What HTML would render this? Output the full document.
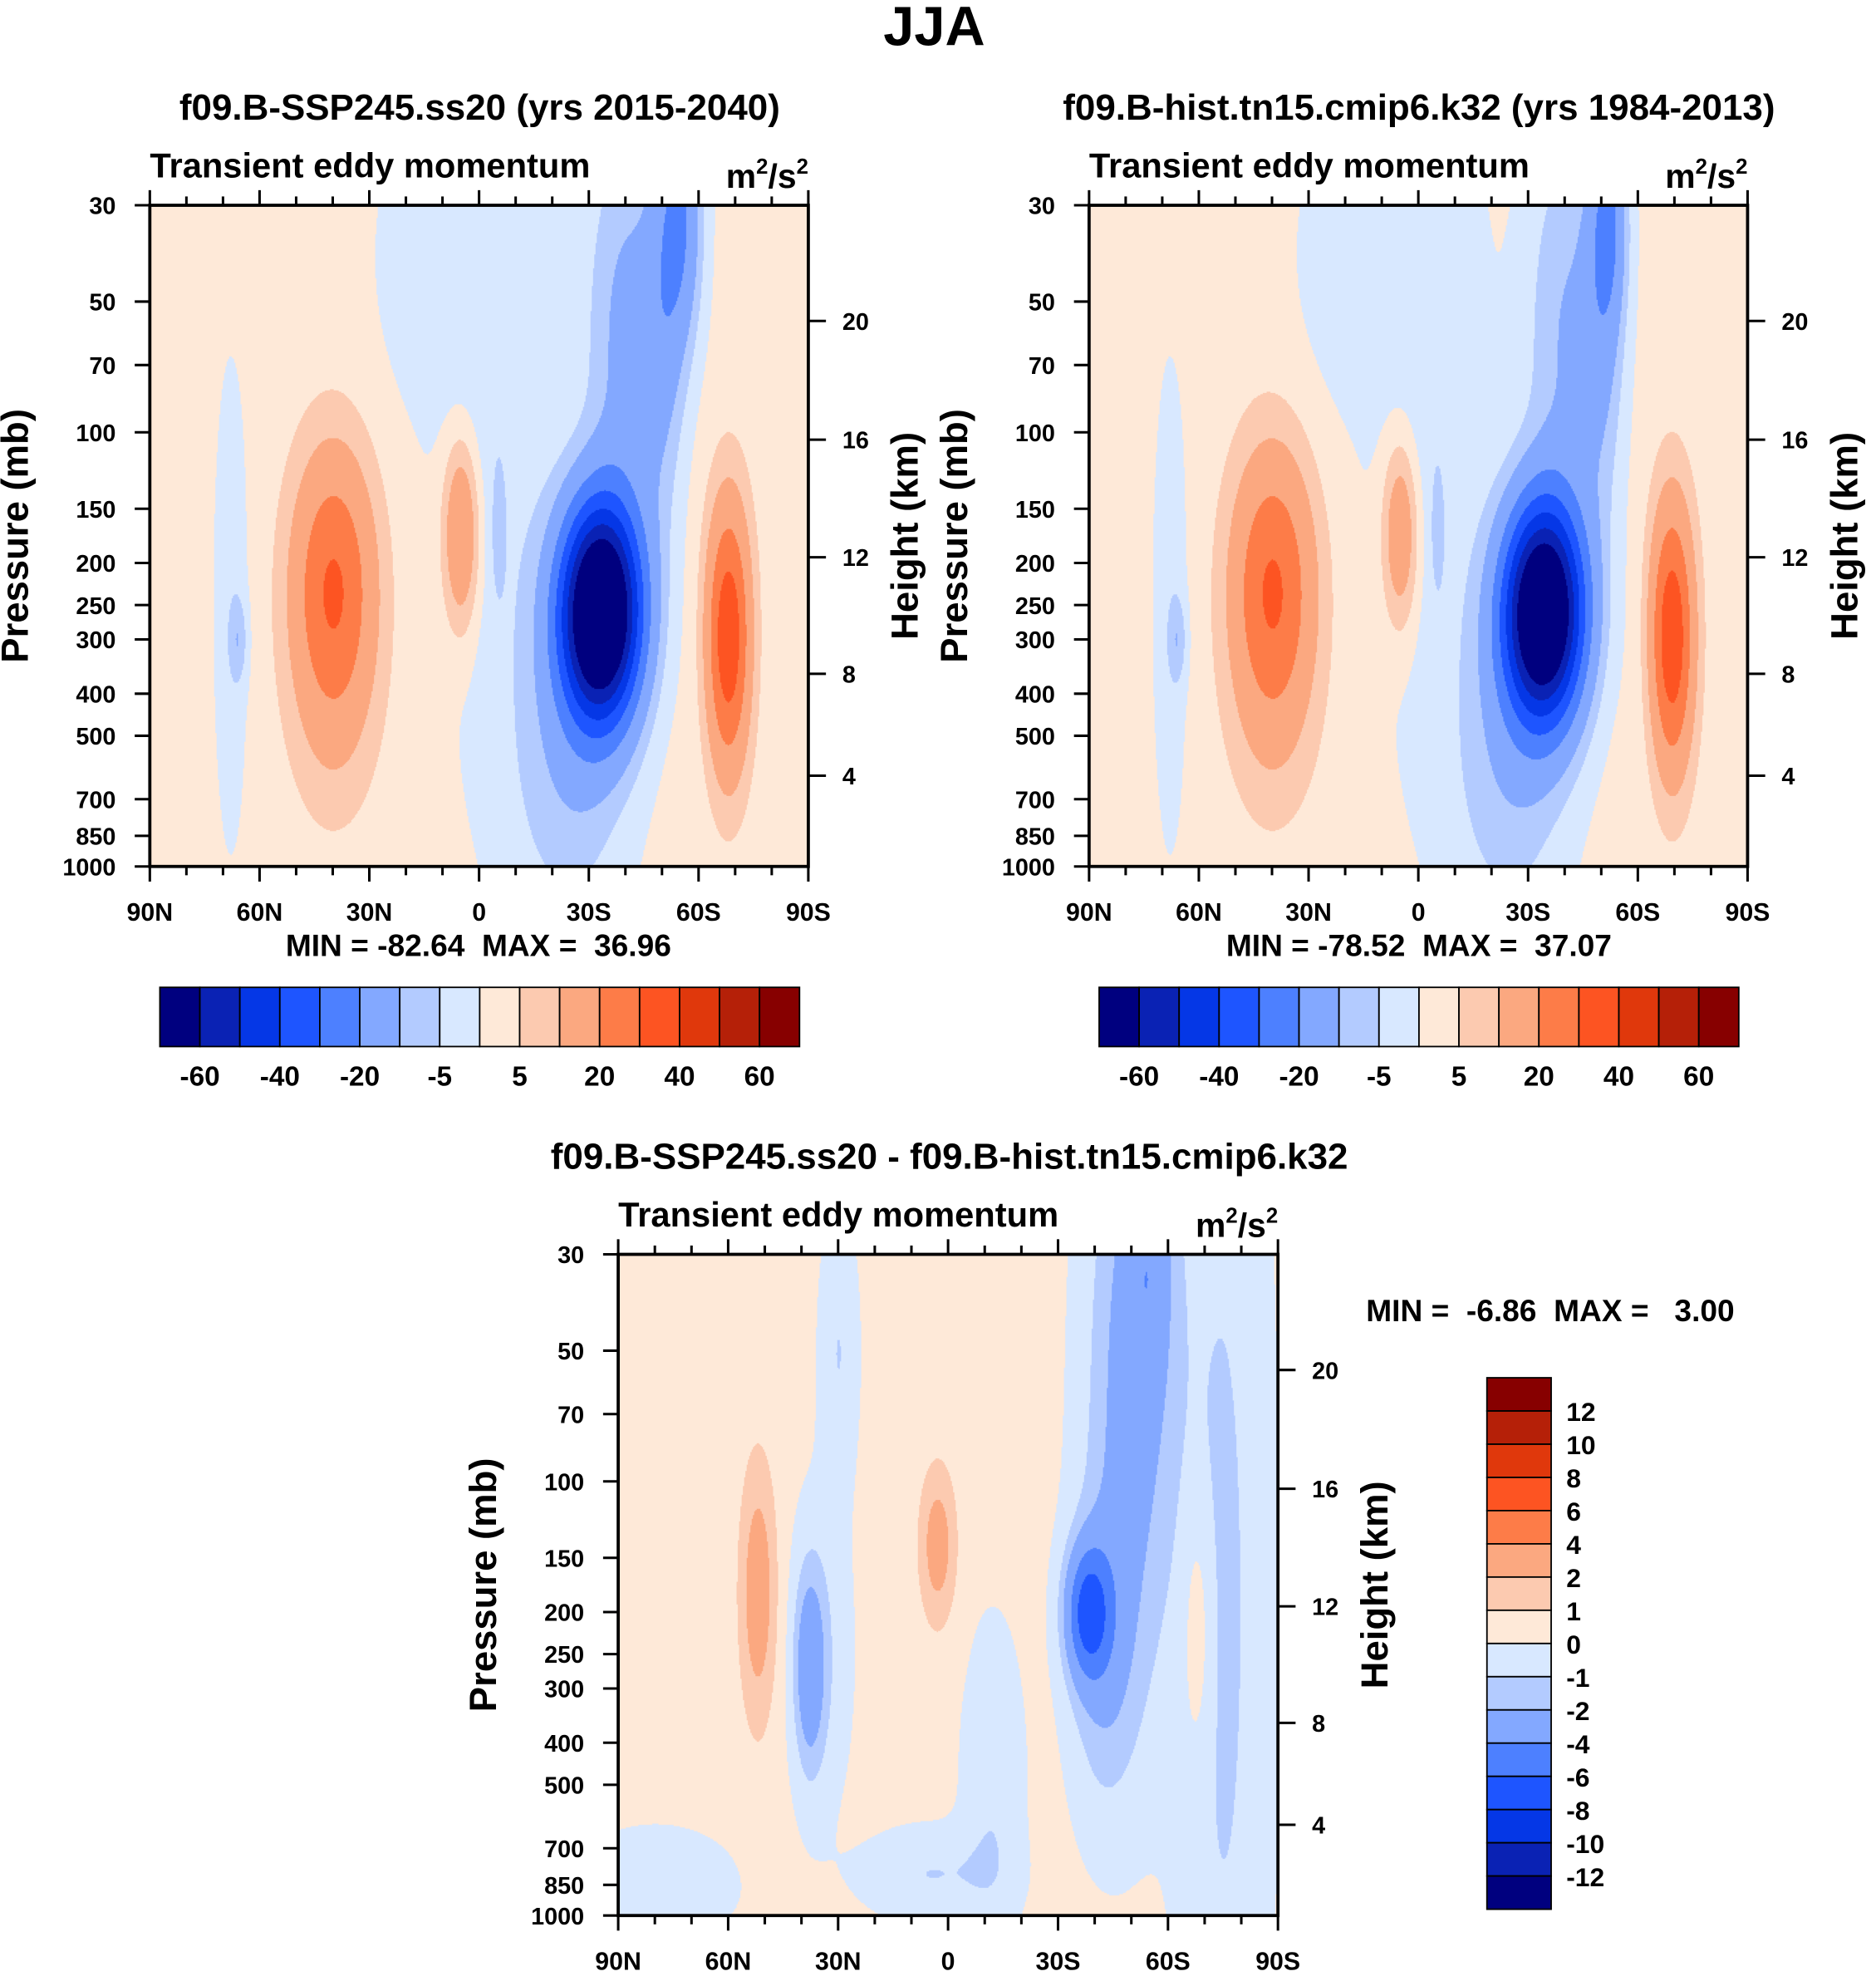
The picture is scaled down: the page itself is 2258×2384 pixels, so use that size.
<!DOCTYPE html>
<html><head><meta charset="utf-8">
<style>
html,body{margin:0;padding:0;background:#fff;}
#wrap{position:absolute;left:0;top:0;width:1490px;height:1573px;transform:scale(1.51544,1.51558);transform-origin:0 0;font-family:"Liberation Sans",Arial,sans-serif;font-weight:bold;}
canvas{position:absolute;}
svg{position:absolute;left:0;top:0;}
svg text{white-space:pre;}
</style></head>
<body>
<div id="wrap">
<canvas id="c1" style="left:119px;top:163px;width:523px;height:525px" width="1046" height="1050"></canvas>
<canvas id="c2" style="left:865px;top:163px;width:523px;height:525px" width="1046" height="1050"></canvas>
<canvas id="c3" style="left:491px;top:996px;width:524px;height:525px" width="1048" height="1050"></canvas>
<svg id="svg" width="1490" height="1573" viewBox="0 0 1490 1573"></svg>
</div>
<script>
// ---- data ----
const pressureTicks = [30,50,70,100,150,200,250,300,400,500,700,850,1000];
const heightTicks = [4,8,12,16,20];
const heightPressures = [618,360,194,104,55.4];
const latTicks = [90,60,30,0,-30,-60,-90];
const latLabels = ["90N","60N","30N","0","30S","60S","90S"];
const levelsFull = [-60,-50,-40,-30,-20,-10,-5,0,5,10,20,30,40,50,60];
const levelsDiff = [-12,-10,-8,-6,-4,-2,-1,0,1,2,4,6,8,10,12];
const fullLabels = ["-60","-40","-20","-5","5","20","40","60"];
const colors = ["#00007f","#0a22b4","#0537e6","#1e55ff","#4d80ff","#83a8ff","#b3cbff","#d8e8ff","#fee9d8","#fccab0","#fba880","#fd7c48","#fd5422","#e0380c","#b52008","#870000"];
// features: [lat, pressure, amplitude, latWidth, logPressureWidth]
const base1 = 2;
const features1 = [
 [-33,260,-90,11,0.25],[-40,60,-14,11,0.5],[-25,600,-10,16,0.4],[-5,90,-6,16,0.9],
 [-55,32,-20,6,0.3],[-50,60,-10,6,0.4],[-68,320,-10,7,0.3],[-68,300,46,6,0.3],[40,220,27,11,0.3],[40,420,6,12,0.3],
 [5,170,20,5,0.22],[66,300,-8,2.5,0.1],[68,250,-5,5,0.6],[15,40,-5,14,0.35],[-5,170,-4,2,0.15]];
const base2 = 2;
const features2 = [
 [-34,260,-86,11,0.25],[-40,60,-12,11,0.5],[-25,600,-10,16,0.4],[-3,80,-6,16,0.9],
 [-52,32,-18,5,0.25],[-50,60,-10,6,0.4],[-68,320,-10,7,0.3],[-69,300,46,6,0.3],[40,220,27,11,0.3],[40,420,6,12,0.3],
 [5,170,18,5,0.22],[66,300,-8,2.5,0.1],[68,250,-5,5,0.6],[20,40,-5,14,0.35],[-5,170,-4,2,0.15]];
const base3 = 0.3;
const features3 = [
 [-50,60,-3,12,0.7],[-38,200,-6,6,0.15],[-42,250,-2,9,0.35],[-75,200,-1.5,12,1.5],[-68,220,1.3,4,0.3],
 [52,180,2.6,5,0.3],[38,270,-3,4,0.22],[35,250,-1.2,8,0.35],[3,140,2.4,5,0.18],
 [30,50,-1.3,5,0.3],[80,850,-1.2,20,0.12],[5,800,-1.3,18,0.1],[-12,500,-1.2,8,0.35],[-55,30,-2,6,0.3]];

function fieldVal(base,feats,lat,z){
  let v=base;
  for(const f of feats){
    const dx=(lat-f[0])/f[3], dz=(z-Math.log10(f[1]))/f[4];
    v+=f[2]*Math.exp(-dx*dx-dz*dz);
  }
  return v;
}
function draw(id,base,feats,levels){
  const c=document.getElementById(id),ctx=c.getContext('2d');
  const W=c.width,H=c.height,step=2;
  const z0=Math.log10(30),z1=Math.log10(1000);
  for(let y=0;y<H;y+=step){
    const z=z0+(y/H)*(z1-z0);
    for(let x=0;x<W;x+=step){
      const lat=90-180*x/W;
      const v=fieldVal(base,feats,lat,z);
      let b=0;while(b<levels.length&&v>=levels[b])b++;
      ctx.fillStyle=colors[b];ctx.fillRect(x,y,step,step);
    }
  }
}
draw('c1',base1,features1,levelsFull);
draw('c2',base2,features2,levelsFull);
draw('c3',base3,features3,levelsDiff);

const NS="http://www.w3.org/2000/svg",svg=document.getElementById('svg');
function el(tag,attrs,txt){const e=document.createElementNS(NS,tag);for(const k in attrs)e.setAttribute(k,attrs[k]);if(txt!==undefined)e.textContent=txt;svg.appendChild(e);return e;}
function text(x,y,s,size,anchor,name,rot){
  const t=el('text',{x:x,y:y,'font-size':size,'text-anchor':anchor||'middle','font-family':'"Liberation Sans",Arial,sans-serif','font-weight':'bold',fill:'#000'},s);
  
  
  if(rot)t.setAttribute('transform','rotate(-90 '+x+' '+y+')');
  return t;
}
text(742,36,"JJA",44,'middle','figure-title');

function units(x,y,name){
  const u=el('text',{x:x,y:y,'font-size':27,'text-anchor':'end','font-family':'"Liberation Sans",Arial,sans-serif','font-weight':'bold'});
  
  
  u.innerHTML='m<tspan dy="-11" font-size="17">2</tspan><tspan dy="11">/s</tspan><tspan dy="-11" font-size="17">2</tspan>';
}
function axes(px,py,w,h,pfx){
  const pY=p=>py+h*Math.log10(p/30)/Math.log10(1000/30);
  const lX=l=>px+(90-l)/180*w;
  const fr=el('rect',{x:px,y:py,width:w,height:h,fill:'none',stroke:'#000','stroke-width':2.5});
  
  
  pressureTicks.forEach(p=>{
    const y=pY(p);
    el('line',{x1:px-12,x2:px,y1:y,y2:y,stroke:'#000','stroke-width':2});
    text(px-27,y+7,String(p),19,'end',pfx+'-pressure-tick-label');
  });
  heightTicks.forEach((hk,i)=>{
    const y=pY(heightPressures[i]);
    el('line',{x1:px+w,x2:px+w+14,y1:y,y2:y,stroke:'#000','stroke-width':2});
    text(px+w+27,y+7,String(hk),19,'start',pfx+'-height-tick-label');
  });
  for(let l=90;l>=-90;l-=10){
    const x=lX(l),maj=(l%30===0);
    el('line',{x1:x,x2:x,y1:py+h,y2:py+h+(maj?12:7),stroke:'#000','stroke-width':2});
    el('line',{x1:x,x2:x,y1:py,y2:py-(maj?12:7),stroke:'#000','stroke-width':2});
  }
  latTicks.forEach((l,i)=>text(lX(l),py+h+43,latLabels[i],20,'middle',pfx+'-lat-tick-label'));
  text(px-97,py+h/2,"Pressure (mb)",30,'middle',pfx+'-y-axis-title',true);
  text(px+w+87,py+h/2,"Height (km)",30,'middle',pfx+'-y2-axis-title',true);
}
function panel(px,py,w,h,title,tx,minmax,mmx,mmy,pfx){
  text(tx,95,title,29,'middle',pfx+'-title');
  text(px,141,"Transient eddy momentum",27.5,'start',pfx+'-subtitle');
  units(px+w,py-14,pfx+'-units');
  axes(px,py,w,h,pfx);
  text(mmx,mmy,minmax,24.5,'middle',pfx+'-min-max');
}
panel(119,163,523,525,"f09.B-SSP245.ss20 (yrs 2015-2040)",381,"MIN = -82.64  MAX =  36.96",380,759,'left');
panel(865,163,523,525,"f09.B-hist.tn15.cmip6.k32 (yrs 1984-2013)",1127,"MIN = -78.52  MAX =  37.07",1127,759,'right');
// bottom panel
text(754,928,"f09.B-SSP245.ss20 - f09.B-hist.tn15.cmip6.k32",29,'middle','diff-title');
text(491,974,"Transient eddy momentum",27.5,'start','diff-subtitle');
units(1015,982,'diff-units');
axes(491,996,524,525,'diff');
text(1085,1049,"MIN =  -6.86  MAX =   3.00",24.5,'start','diff-min-max');
// horizontal colorbars
function hbar(x0,y0,w,h,pfx){
  const bw=w/colors.length;
  colors.forEach((c,i)=>{
    const r=el('rect',{x:x0+i*bw,y:y0,width:bw,height:h,fill:c,stroke:'#000','stroke-width':1.2});
    
    
  });
  fullLabels.forEach((s,k)=>text(x0+bw*(2*k+1),y0+h+31,s,22,'middle',pfx+'-colorbar-label'));
}
hbar(127,784,508,47,'left');
hbar(873,784,508,47,'right');
// vertical colorbar
(function(){
  const x0=1181,y0=1094,w=51,h=422,bh=h/colors.length;
  for(let i=0;i<colors.length;i++){
    const r=el('rect',{x:x0,y:y0+i*bh,width:w,height:bh,fill:colors[colors.length-1-i],stroke:'#000','stroke-width':1.2});
    
    
  }
  for(let k=1;k<colors.length;k++){
    text(x0+w+12,y0+k*bh+8,String(levelsDiff[levelsDiff.length-k]),21,'start','diff-colorbar-label');
  }
})();
</script>
</body></html>
